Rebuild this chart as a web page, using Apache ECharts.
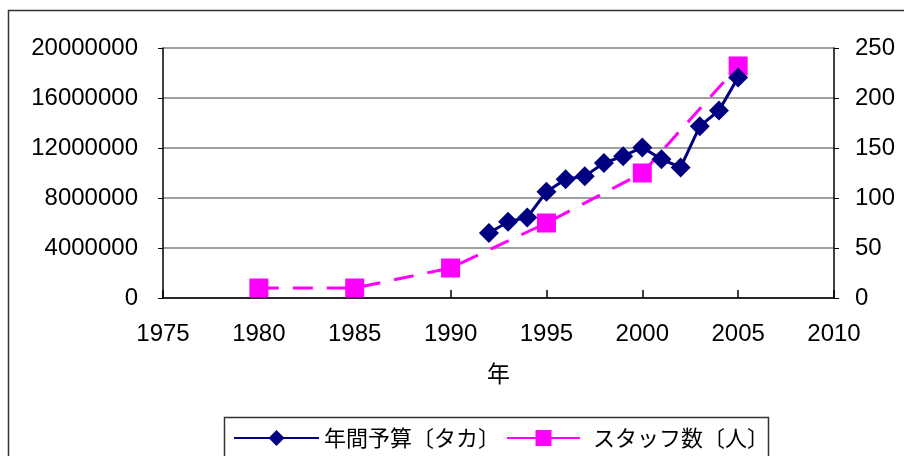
<!DOCTYPE html>
<html>
<head>
<meta charset="utf-8">
<script src="https://cdn.jsdelivr.net/npm/echarts@6/dist/echarts.min.js"></script>
<style>
  html, body { margin: 0; padding: 0; background: #fff; }
  #chart { width: 904px; height: 456px; }
</style>
</head>
<body>
<div id="chart"></div>
<script>
// Annual budget (Taka), 1992-2005
const budgetYears = [1992, 1993, 1994, 1995, 1996, 1997, 1998, 1999, 2000, 2001, 2002, 2003, 2004, 2005];
const budgetValues = [5200000, 6100000, 6450000, 8500000, 9500000, 9750000, 10800000, 11350000, 12050000, 11100000, 10450000, 13750000, 15000000, 17650000];

// Staff headcount
const staffYears = [1980, 1985, 1990, 1995, 2000, 2005];
const staffValues = [10, 10, 30, 75, 125, 232];

const seriesNames = ['年間予算〔タカ〕', 'スタッフ数〔人〕'];
const xAxisName = '年';

const fontFamily = 'Liberation Sans, Arial, sans-serif';
const cjkFont = '"Noto Sans CJK JP", sans-serif';
const plain = v => String(v);
const legendText = { fontFamily: cjkFont, fontSize: 22, color: '#000' };

const chart = echarts.init(document.getElementById('chart'));
chart.setOption({
  animation: false,
  backgroundColor: '#fff',
  graphic: [{
    // outer chart frame (runs past the right and bottom edges)
    type: 'rect',
    shape: { x: 8.5, y: 10.5, width: 1000, height: 600 },
    style: { fill: 'none', stroke: '#333', lineWidth: 1.5 },
    silent: true, z: -10
  }, {
    // legend frame
    type: 'rect',
    shape: { x: 224.5, y: 417.5, width: 544, height: 80 },
    style: { fill: '#fff', stroke: '#333', lineWidth: 1.5 },
    silent: true, z: -5
  }],
  grid: { left: 163, top: 48, right: 70, bottom: 158, show: false },
  legend: [{
    left: 233, top: 427, padding: 0,
    itemWidth: 85, itemHeight: 20,
    textStyle: legendText,
    data: [{ name: seriesNames[0] }]
  }, {
    left: 506, top: 427, padding: 0,
    itemWidth: 73, itemHeight: 20,
    textStyle: Object.assign({ padding: [0, 0, 0, 8] }, legendText),
    data: [{ name: seriesNames[1], lineStyle: { type: 'solid' } }]
  }],
  xAxis: {
    type: 'value', min: 1975, max: 2010, interval: 5,
    name: xAxisName, nameLocation: 'middle', nameGap: 64,
    nameTextStyle: { fontFamily: cjkFont, fontSize: 23, color: '#000', verticalAlign: 'top' },
    axisLine: { lineStyle: { color: '#000', width: 1.5 } },
    axisTick: { inside: true, length: 8, lineStyle: { color: '#000', width: 1.5 } },
    axisLabel: { fontFamily: fontFamily, fontSize: 24, color: '#000', margin: 24, formatter: plain },
    splitLine: { show: false }
  },
  yAxis: [{
    type: 'value', min: 0, max: 20000000, interval: 4000000,
    axisLine: { show: true, lineStyle: { color: '#000', width: 1.5 } },
    axisTick: { show: true, length: 5, lineStyle: { color: '#000' } },
    axisLabel: { fontFamily: fontFamily, fontSize: 24, color: '#000', margin: 25, formatter: plain },
    splitLine: { lineStyle: { color: '#808080', width: 1.5 } }
  }, {
    type: 'value', min: 0, max: 250, interval: 50,
    axisLine: { show: true, lineStyle: { color: '#000', width: 1.5 } },
    axisTick: { show: true, length: 5, lineStyle: { color: '#000' } },
    axisLabel: { fontFamily: fontFamily, fontSize: 24, color: '#000', margin: 21, formatter: plain },
    splitLine: { show: false }
  }],
  series: [{
    name: seriesNames[0],
    type: 'line',
    yAxisIndex: 0,
    data: budgetYears.map((y, i) => [y, budgetValues[i]]),
    symbol: 'diamond', symbolSize: 20,
    itemStyle: { color: '#000080' },
    lineStyle: { color: '#000080', width: 3 },
    z: 3
  }, {
    name: seriesNames[1],
    type: 'line',
    yAxisIndex: 1,
    data: staffYears.map((y, i) => [y, staffValues[i]]),
    symbol: 'rect', symbolSize: 19,
    itemStyle: { color: '#FF00FF' },
    lineStyle: { color: '#FF00FF', width: 3, type: [20, 14] },
    z: 2
  }]
});
</script>
</body>
</html>
